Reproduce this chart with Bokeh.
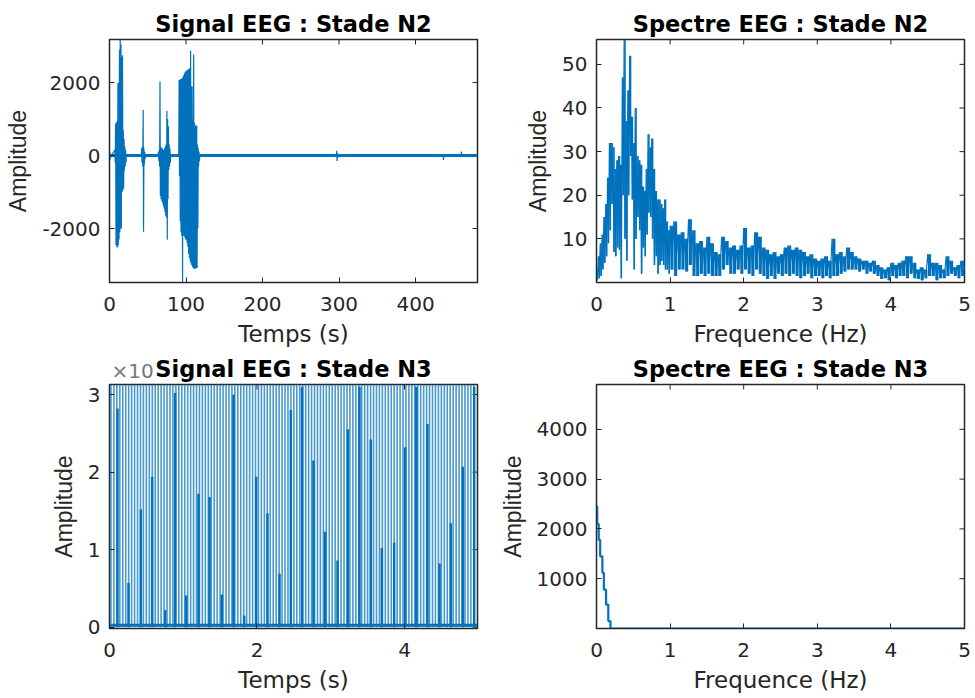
import math
from bokeh.plotting import figure
from bokeh.layouts import column, row
from bokeh.models import FixedTicker, Range1d, Title, PrintfTickFormatter
from bokeh.embed import file_html
from bokeh.resources import INLINE

BLUE = "#0072BD"
AX = "#262626"
FONT = "DejaVu Sans"
YFONT = "Liberation Sans"

# ---------------- Data ----------------
# N2 signal: envelope (upper / lower) of the EEG trace, seconds
n2_sig_t = [0, 1, 2,
            7, 8, 9, 10, 11, 12, 13, 14, 15, 16, 17, 18, 19, 20, 21, 22,
            41, 42, 43, 44, 45, 46, 47,
            63, 64, 65, 66, 67, 68, 69, 70, 71, 72, 73, 74, 75, 76, 77, 78, 79, 80,
            90, 91, 92, 93, 94, 95, 96, 97, 98, 99, 100, 101, 102, 103, 104, 105,
            106, 107, 108, 109, 110, 111, 112, 113, 114, 115, 116, 117, 118,
            296, 297, 298, 299, 435, 436, 437, 459, 460, 461]
n2_sig_hi = [120, 60, 0,
             150, 880, 900, 950, 1980, 2000, 2900, 3180, 3050, 2700, 2750, 700, 450, 250, 150, 0,
             0, 200, 250, 1250, 200, 100, 0,
             0, 100, 150, 2020, 250, 200, 200, 150, 150, 200, 250, 300, 1220, 1000, 800, 300, 200, 0,
             0, 2070, 2080, 2100, 2100, 2120, 2150, 2200, 2250, 2300, 2300, 2330, 2350, 2350, 2380, 2400,
             2870, 1900, 1900, 1000, 2770, 900, 820, 820, 820, 300, 200, 100, 0,
             0, 130, 60, 0, 0, 40, 0, 0, 110, 0]
n2_sig_lo = [-120, -60, 0,
             -200, -2450, -2500, -2520, -2450, -2300, -2100, -2010, -2000, -1000, -950, -900, -400, -300, -200, 0,
             0, -200, -300, -2090, -250, -100, 0,
             0, -150, -300, -1100, -1200, -1250, -1300, -1380, -1450, -1550, -1650, -1700, -2310, -1200, -400, -300, -200, 0,
             0, -560, -1800, -2100, -2200, -3480, -2200, -2200, -2250, -2300, -2300, -2400, -2500, -2700, -2800, -2900,
             -2950, -3000, -3050, -3080, -3100, -3100, -3100, -3080, -3080, -2000, -300, -150, 0,
             0, -150, -60, 0, 0, -120, 0, 0, -40, 0]
n2_base_t = [0, 481]
n2_base_v = [0, 0]

# N2 spectrum: upper / lower envelope per frequency bin (Hz)
n2_f = [0.000, 0.025, 0.050, 0.075, 0.100, 0.125, 0.150, 0.175, 0.200, 0.225,
        0.250, 0.275, 0.300, 0.325, 0.350, 0.375, 0.400, 0.425, 0.450, 0.475,
        0.500, 0.525, 0.550, 0.575, 0.600, 0.625, 0.650, 0.675, 0.700, 0.725,
        0.750, 0.775, 0.800, 0.825, 0.850, 0.875, 0.900, 0.925, 0.950, 0.975,
        1.00, 1.05, 1.10, 1.15, 1.20, 1.25, 1.30, 1.35, 1.40, 1.45,
        1.50, 1.55, 1.60, 1.65, 1.70, 1.75, 1.80, 1.85, 1.90, 1.95,
        2.00, 2.05, 2.10, 2.15, 2.20, 2.25, 2.30, 2.35, 2.40, 2.45,
        2.50, 2.55, 2.60, 2.65, 2.70, 2.75, 2.80, 2.85, 2.90, 2.95,
        3.00, 3.05, 3.10, 3.15, 3.20, 3.25, 3.30, 3.35, 3.40, 3.45,
        3.50, 3.55, 3.60, 3.65, 3.70, 3.75, 3.80, 3.85, 3.90, 3.95,
        4.00, 4.05, 4.10, 4.15, 4.20, 4.25, 4.30, 4.35, 4.40, 4.45,
        4.50, 4.55, 4.60, 4.65, 4.70, 4.75, 4.80, 4.85, 4.90, 4.95, 5.00]
n2_hi = [3, 6, 9, 11, 15, 18, 24, 32, 32, 31,
         26, 28, 29, 27, 47, 55.7, 37, 44, 52, 38,
         32, 40, 29, 28, 27, 22, 21, 26, 34, 31,
         33, 26, 21, 19, 19, 18, 17, 19, 14, 12,
         13, 14, 11, 11.5, 10, 14.5, 12, 9, 9.5, 8,
         10.5, 9, 7, 6.5, 10.5, 9.5, 8, 8.5, 7.5, 8.5,
         12.5, 8, 8.5, 11.5, 10.5, 8, 7.5, 6.5, 7, 6,
         6.5, 8, 8.5, 7.5, 8, 7.5, 7, 6, 6.5, 5.5,
         5, 5.5, 6, 5, 10, 6.5, 7, 6, 8, 7,
         6, 5.5, 5, 5, 4.5, 5, 4, 3.5, 3, 3.5,
         4.5, 4, 4.5, 5, 6, 6, 4.5, 3, 3.5, 3,
         6.5, 4.5, 4.5, 4, 3, 6, 5, 3.5, 4, 5, 4]
n2_lo = [0.5, 1, 1.5, 3, 4.5, 6, 9, 12, 18, 7,
         6, 8, 7.5, 1, 20, 10, 5, 20, 29, 19,
         3, 10, 15, 12, 2, 8, 6, 11, 16, 15,
         10, 4, 6, 2, 4, 5, 4, 3, 3, 2,
         3, 1.5, 3, 3, 2.5, 4, 1.5, 1.5, 2, 1.5,
         2, 1.5, 1.5, 1.5, 3, 4, 2, 2, 3, 2,
         3, 2, 1.5, 3, 2, 1.5, 0.8, 1.5, 0.8, 2,
         1.5, 2, 1.5, 2, 1.5, 1, 1.5, 2, 1, 1.5,
         1.5, 1, 1.5, 1, 1.5, 1.5, 2, 2.5, 3, 3,
         3, 2.5, 3, 2, 2.5, 2, 1.5, 0.8, 1, 0.5,
         1.5, 1, 1.5, 1.5, 1, 2, 1, 0.8, 0.5, 1,
         1.5, 1.5, 0.5, 1, 1, 1.5, 2, 1.5, 1, 1.5, 1.5]

# N3 signal (x10^5): full-height comb and the shorter spikes
n3_top = 3.13
n3_comb_t = [round(0.02 + 0.04 * k, 3) for k in range(124)]
n3_spk_t = [0.108, 0.258, 0.425, 0.579, 0.755, 0.890, 1.040, 1.207, 1.356, 1.523,
            1.681, 1.826, 1.989, 2.142, 2.305, 2.459, 2.612, 2.766, 2.924, 3.092,
            3.232, 3.390, 3.543, 3.693, 3.860, 4.009, 4.160, 4.312, 4.475, 4.628,
            4.791, 4.945]
n3_spk_h = [2.82, 0.57, 1.52, 1.94, 0.22, 3.02, 0.41, 1.72, 1.68, 0.42,
            3.00, 0.15, 1.94, 1.47, 0.69, 2.80, 3.10, 2.15, 1.23, 0.86,
            2.55, 3.10, 2.42, 1.02, 1.09, 2.32, 3.10, 2.62, 0.82, 1.34,
            2.07, 3.10]
n3_base_t = [0, 4.99]
n3_base_v = [0.025, 0.025]

# N3 spectrum: staircase
n3_f = [0.0, 0.01, 0.03, 0.05, 0.08, 0.10, 0.13, 0.16, 0.19, 5.0]
n3_amp = [2450, 2100, 1780, 1450, 1120, 780, 480, 150, 0, 0]

# tick values
tl_xticks = [0, 100, 200, 300, 400]
tl_yticks = [-2000, 0, 2000]
f_ticks = [0, 1, 2, 3, 4, 5]
tr_yticks = [10, 20, 30, 40, 50]
bl_xticks = [0, 2, 4]
bl_yticks = [0, 1, 2, 3]
br_yticks = [1000, 2000, 3000, 4000]


def zigzag(t, hi, lo, half):
    xs, ys = [], []
    for i in range(len(t)):
        h = half[i] if isinstance(half, list) else half
        xs += [t[i], t[i] + h]
        ys += [hi[i], lo[i]]
    return xs, ys


def style_title(t, size="22.5px"):
    t.text_font = FONT
    t.text_font_size = size
    t.text_font_style = "bold"
    t.align = "center"
    t.text_color = "#000000"
    t.standoff = 5


def make(width, height, bl, br, bt, bb, xr, yr, xticks, yticks, title, xlabel):
    p = figure(width=width, height=height, x_range=Range1d(*xr), y_range=Range1d(*yr),
               output_backend="svg", toolbar_location=None, min_border_left=bl,
               min_border_right=br, min_border_top=bt, min_border_bottom=bb, title=title)
    p.background_fill_color = "white"
    p.border_fill_color = "white"
    p.grid.visible = False
    p.outline_line_color = AX
    p.outline_line_width = 1.5
    if title is not None:
        style_title(p.title)
    for ax, ticks in ((p.xaxis[0], xticks), (p.yaxis[0], yticks)):
        ax.ticker = FixedTicker(ticks=ticks)
        ax.major_tick_in = 5
        ax.major_tick_out = 0
        ax.minor_tick_line_color = None
        ax.axis_line_color = AX
        ax.major_tick_line_color = AX
        ax.major_label_text_font = FONT
        ax.major_label_text_font_size = "20px"
        ax.major_label_text_color = AX
        ax.axis_label_text_font_size = "23px"
        ax.axis_label_text_font_style = "normal"
        ax.axis_label_text_color = AX
    p.xaxis[0].axis_label_text_font = FONT
    p.yaxis[0].axis_label_text_font = YFONT
    p.xaxis[0].major_label_standoff = 14
    p.yaxis[0].major_label_standoff = 9
    p.xaxis[0].axis_label_standoff = 7
    p.yaxis[0].axis_label_standoff = 8
    p.xaxis[0].axis_label = xlabel
    p.yaxis[0].axis_label = "Amplitude"
    p.yaxis[0].formatter = PrintfTickFormatter(format="%d")
    # mirrored tick marks on the top and right edges of the box
    p.scatter(x=xticks, y=[yr[1]] * len(xticks), marker="dash", angle=math.pi / 2,
              size=10, line_color=AX, line_width=1)
    p.scatter(x=[xr[1]] * len(yticks), y=yticks, marker="dash", angle=0,
              size=10, line_color=AX, line_width=1)
    return p


# Top-left: N2 signal
p1 = make(487, 349, 109, 10, 39, 65, (0, 481), (-3480, 3180), tl_xticks, tl_yticks,
          "Signal EEG : Stade N2", "Temps (s)")
p1.line(n2_base_t, n2_base_v, color=BLUE, line_width=3)
zx, zy = zigzag(n2_sig_t, n2_sig_hi, n2_sig_lo, 0.5)
p1.line(zx, zy, color=BLUE, line_width=1.2)

# Top-right: N2 spectrum
p2 = make(488, 349, 109, 11, 39, 66, (0, 5), (0, 55.7), f_ticks, tr_yticks,
          "Spectre EEG : Stade N2", "Frequence (Hz)")
bins = [(n2_f[i + 1] - n2_f[i]) if i + 1 < len(n2_f) else 0.05 for i in range(len(n2_f))]
p2.vbar(x=[n2_f[i] + bins[i] / 2 for i in range(len(n2_f))], bottom=n2_lo, top=n2_hi,
        width=[0.85 * b for b in bins], fill_color=BLUE, line_color=None)
sx, sy = zigzag(n2_f, n2_hi, n2_lo, [b / 2 for b in bins])
p2.line(sx, sy, color=BLUE, line_width=1.1)

# Bottom-left: N3 signal
p3 = make(487, 349, 109, 10, 35, 70, (0, 4.99), (-0.017, n3_top), bl_xticks, bl_yticks,
          None, "Temps (s)")
p3.segment(x0=n3_comb_t, y0=[0] * len(n3_comb_t), x1=n3_comb_t, y1=[n3_top] * len(n3_comb_t),
           color=BLUE, line_width=1.6, line_alpha=0.72)
p3.segment(x0=n3_spk_t, y0=[0] * len(n3_spk_t), x1=n3_spk_t, y1=n3_spk_h,
           color=BLUE, line_width=2.5)
p3.line(n3_base_t, n3_base_v, color=BLUE, line_width=3)
main_t = Title(text="Signal EEG : Stade N3")
style_title(main_t)
p3.add_layout(main_t, "above")
exp_t = Title(text="\u00d710", align="left", offset=2, text_font=FONT,
              text_font_size="20px", text_color="#777777", text_font_style="normal")
try:
    exp_t.standoff = -62
except Exception:
    exp_t.standoff = 0
p3.add_layout(exp_t, "above")

# Bottom-right: N3 spectrum
p4 = make(488, 349, 109, 11, 35, 70, (0, 5), (0, 4900), f_ticks, br_yticks,
          "Spectre EEG : Stade N3", "Frequence (Hz)")
p4.step(n3_f, n3_amp, mode="after", color=BLUE, line_width=2.2)

layout = column(row(p1, p2), row(p3, p4))
open("out.html", "w").write(file_html(layout, INLINE))
